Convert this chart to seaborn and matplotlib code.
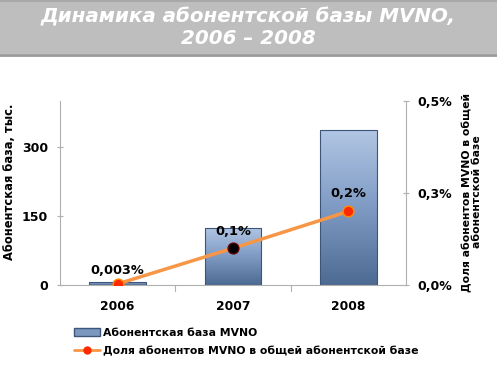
import numpy as np
import pandas as pd
import matplotlib
matplotlib.use("Agg")
import matplotlib.pyplot as plt
import seaborn as sns
from matplotlib.colors import LinearSegmentedColormap
from matplotlib.lines import Line2D
from matplotlib.patches import Patch

# ---- data ----
years = ["2006", "2007", "2008"]
subscribers = [7, 125, 338]            # thousand
share_pct = [0.003, 0.1, 0.2]          # %
share_labels = ["0,003%", "0,1%", "0,2%"]
left_ticks = [0, 150, 300]
right_ticks = [0.0, 0.25, 0.5]
right_tick_labels = ["0,0%", "0,3%", "0,5%"]

title = "Динамика абонентской базы MVNO,\n2006 – 2008"
ylabel_left = "Абонентская база, тыс."
ylabel_right = "Доля абонентов MVNO в общей\nабонентской базе"
legend_bar = "Абонентская база MVNO"
legend_line = "Доля абонентов MVNO в общей абонентской базе"

df = pd.DataFrame({"year": years, "subs": subscribers, "share": share_pct})

sns.set_style("white")
plt.rcParams['font.family'] = ['DejaVu Sans']
plt.rcParams['text.color'] = 'black'
plt.rcParams['xtick.color'] = 'black'
plt.rcParams['ytick.color'] = 'black'
plt.rcParams['axes.labelcolor'] = 'black'

fig = plt.figure(figsize=(4.97, 3.8), dpi=100)
W, H = 497, 380

# title band
band = fig.add_axes([0, 1 - 54 / H, 1, 54 / H])
band.set_facecolor("#bebebe")
band.set_xticks([]); band.set_yticks([])
for s in band.spines.values():
    s.set_visible(False)
fig.add_artist(Line2D([0, 1], [1 - 54.5 / H, 1 - 54.5 / H], color="#999999", lw=2, transform=fig.transFigure))
fig.add_artist(Line2D([0, 1], [1 - 0.5 / H, 1 - 0.5 / H], color="#a8a8a8", lw=1.5, transform=fig.transFigure))
fig.text(0.5, 1 - 27.5 / H, title, ha="center", va="center", color="white",
         fontsize=14.3, fontweight="bold", fontstyle="italic", linespacing=1.2)

# main axes: x 60..406, y 101..285
ax = fig.add_axes([60 / W, 1 - 285 / H, 346 / W, 184 / H])
sns.barplot(data=df, x="year", y="subs", ax=ax, width=0.49, color="#7d98bf",
            edgecolor="#3d5578", linewidth=0.8, zorder=2)

# gradient fill for bars
cmap = LinearSegmentedColormap.from_list("b", ["#4d6a92", "#7f9bc4", "#b2c6e4"])
grad = np.linspace(0, 1, 256).reshape(-1, 1)
for p in ax.patches:
    x0, y0 = p.get_x(), p.get_y()
    w, h = p.get_width(), p.get_height()
    im = ax.imshow(grad, cmap=cmap, origin="lower", aspect="auto",
                   extent=[x0, x0 + w, y0, y0 + h], zorder=2.1)
    im.set_clip_path(p)
    p.set_facecolor("none")
    p.set_zorder(2.2)
ax.set_xlim(-0.5, 2.5)
ax.set_ylim(0, 400)

ax.set_yticks(left_ticks)
ax.set_yticklabels([str(t) for t in left_ticks], fontsize=9, fontweight="bold")
ax.set_xticks([0, 1, 2])
ax.set_xticklabels(years, fontsize=8.8, fontweight="bold")
ax.tick_params(axis="x", length=0, pad=11)
ax.tick_params(axis="y", length=5, direction="inout", color="#b0b0b0", pad=6)
for b in [0.5, 1.5]:
    ax.plot([b, b], [0, -0.03], transform=ax.get_xaxis_transform(), color="#b0b0b0", lw=0.8, clip_on=False)
for s in ["top", "right"]:
    ax.spines[s].set_visible(False)
ax.spines["left"].set_color("#b0b0b0")
ax.spines["bottom"].set_color("#b0b0b0")
ax.set_xlabel("")
ax.set_ylabel(ylabel_left, fontsize=8.3, fontweight="bold", va="center")
ax.yaxis.set_label_coords(-50 / 346, 0.56)

# secondary axis
ax2 = ax.twinx()
sns.lineplot(data=df, x="year", y="share", ax=ax2, color="#f79646", lw=2.5, zorder=3)
ax2.scatter([0, 2], [share_pct[0], share_pct[2]], s=60, color="#ff2a00", edgecolor="#ff8c00", linewidth=1, zorder=4)
ax2.scatter([1], [share_pct[1]], s=60, color="black", edgecolor="#5a0000", linewidth=1, zorder=4)
ax2.set_ylim(0, 0.5)
ax2.set_xlim(-0.5, 2.5)
ax2.set_yticks(right_ticks)
ax2.set_yticklabels(right_tick_labels, fontsize=9, fontweight="bold")
ax2.tick_params(axis="y", length=5, direction="inout", color="#b0b0b0", pad=6)
for s in ["top", "left", "bottom"]:
    ax2.spines[s].set_visible(False)
ax2.spines["right"].set_color("#b0b0b0")
ax2.set_ylabel(ylabel_right, fontsize=7.8, fontweight="bold", linespacing=1.0,
               va="center", ha="center")
ax2.yaxis.set_label_coords(1 + 66 / 346, 0.505)

offsets = [(0, 0.018), (0, 0.028), (0, 0.03)]
for i, (v, lab) in enumerate(zip(share_pct, share_labels)):
    ax2.text(i + offsets[i][0], v + offsets[i][1], lab, ha="center", va="bottom",
             fontsize=9.3, fontweight="bold", zorder=5)

# legend
bar_handle = Patch(facecolor="#7d98bf", edgecolor="#3d5578")
line_handle = Line2D([0], [0], color="#f79646", lw=2, marker="o", markersize=5,
                     markerfacecolor="#ff2a00", markeredgecolor="#ff2a00")
fig.legend([bar_handle, line_handle], [legend_bar, legend_line],
           loc="upper left", bbox_to_anchor=(74 / W, 1 - 328 / H), frameon=False,
           prop={"size": 7.8, "weight": "bold"}, handlelength=2.4, handletextpad=0.3,
           labelspacing=0.75, borderpad=0, borderaxespad=0)

fig.savefig("out.png", dpi=100)
